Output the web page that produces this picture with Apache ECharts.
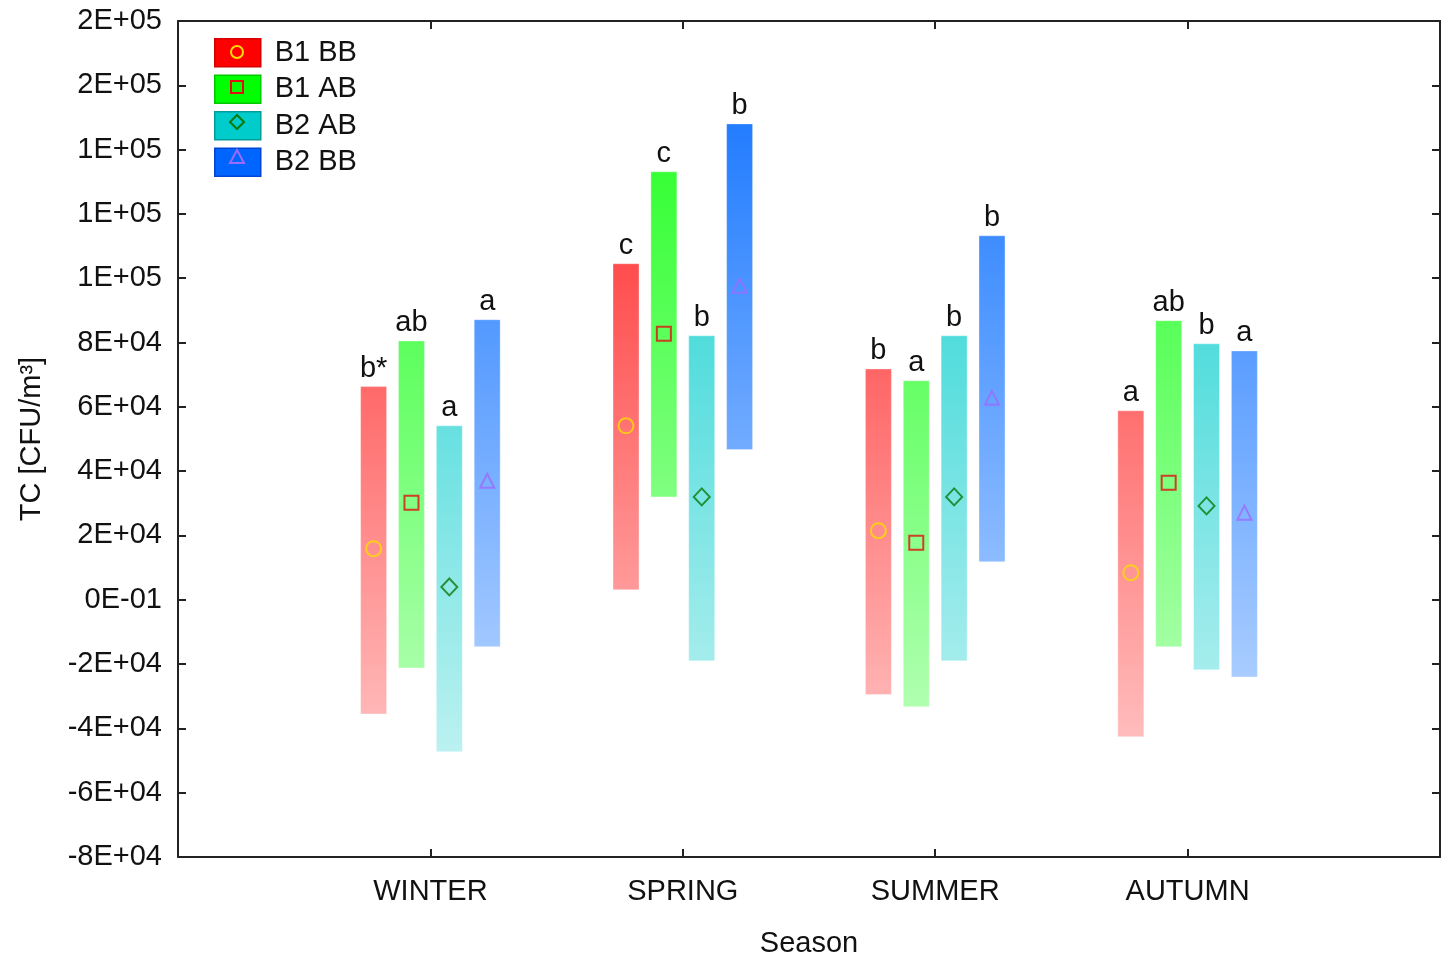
<!DOCTYPE html>
<html>
<head>
<meta charset="utf-8">
<title>TC by season</title>
<script src="https://cdn.jsdelivr.net/npm/echarts@6/dist/echarts.min.js"></script>
<style>
  html, body { margin: 0; padding: 0; background: #fff; }
  #chart { width: 1448px; height: 960px; }
</style>
</head>
<body>
<div id="chart"></div>
<script>
// categories and groups
const seasons = ['WINTER', 'SPRING', 'SUMMER', 'AUTUMN']
const groups = ['B1 BB', 'B1 AB', 'B2 AB', 'B2 BB']

// range (low / high) and mean per group, one value per season
const b1bbLow = [-35500, 3100, -29500, -42600]
const b1bbHigh = [66300, 104500, 71800, 58800]
const b1bbMean = [15900, 54100, 21500, 8400]

const b1abLow = [-21200, 32000, -33300, -14600]
const b1abHigh = [80500, 133100, 68100, 86800]
const b1abMean = [30200, 82700, 17700, 36400]

const b2abLow = [-47300, -19000, -19000, -21800]
const b2abHigh = [54100, 82100, 82100, 79600]
const b2abMean = [4000, 32000, 32000, 29200]

const b2bbLow = [-14600, 46700, 11800, -24000]
const b2bbHigh = [87100, 148000, 113200, 77400]
const b2bbMean = [37000, 97700, 62800, 27100]

// letters above bars
const b1bbLetters = ['b*', 'c', 'b', 'a']
const b1abLetters = ['ab', 'c', 'a', 'ab']
const b2abLetters = ['a', 'b', 'b', 'b']
const b2bbLetters = ['a', 'b', 'b', 'a']

// y tick labels, bottom to top
const yTickLabels = ['-8E+04', '-6E+04', '-4E+04', '-2E+04', '0E-01', '2E+04', '4E+04',
  '6E+04', '8E+04', '1E+05', '1E+05', '1E+05', '2E+05', '2E+05']

const lows = [b1bbLow, b1abLow, b2abLow, b2bbLow]
const highs = [b1bbHigh, b1abHigh, b2abHigh, b2bbHigh]
const means = [b1bbMean, b1abMean, b2abMean, b2bbMean]
const letters = [b1bbLetters, b1abLetters, b2abLetters, b2bbLetters]

const Y_MIN = -80000
const Y_MAX = 180000
const Y_STEP = 20000
const GROUP_OFFSET = 0.15
const FONT = '"Liberation Sans", Arial, sans-serif'
const FS = 29

// bar gradients (top colour, bottom colour), legend colours, markers
const barStops = [
  ['#ff1414', '#ffd8d8'],
  ['#14ff14', '#d2ffd2'],
  ['#00cccc', '#d6f6f6'],
  ['#0a6eff', '#d4e6ff']
]
const legendFill = ['#ff0000', '#00ff00', '#00cccc', '#0064ff']
const legendBorder = ['#d40000', '#00c800', '#009c9c', '#0046d2']
const markerSymbols = ['circle', 'rect', 'diamond', 'triangle']
const markerColors = ['#ffdd00', '#e01010', '#0a7a0a', '#9b6bff']
const markerSizes = [15, 14, [16, 17], 14]

const chart = echarts.init(document.getElementById('chart'))

function xPos(s, c) {
  return c + 1 + (s - 1.5) * GROUP_OFFSET
}

const barSeries = groups.map((name, s) => ({
  name: name,
  type: 'custom',
  z: 2,
  data: seasons.map((_, c) => [xPos(s, c), lows[s][c], highs[s][c], c]),
  encode: { x: 0, y: [1, 2] },
  itemStyle: { color: legendFill[s] },
  renderItem: function (params, api) {
    const lo = api.coord([api.value(0), api.value(1)])
    const hi = api.coord([api.value(0), api.value(2)])
    const yTop = api.coord([0, Y_MAX])[1]
    const yBot = api.coord([0, Y_MIN])[1]
    const w = 26
    const c = api.value(3)
    return {
      type: 'group',
      children: [
        {
          type: 'rect',
          shape: { x: hi[0] - w / 2, y: hi[1], width: w, height: lo[1] - hi[1] },
          style: {
            fill: new echarts.graphic.LinearGradient(0, yTop, 0, yBot, [
              { offset: 0, color: barStops[s][0] },
              { offset: 1, color: barStops[s][1] }
            ], true),
            stroke: 'rgba(255,255,255,0.35)',
            lineWidth: 1
          }
        },
        {
          type: 'text',
          style: {
            text: letters[s][c],
            x: hi[0],
            y: hi[1] - 3,
            align: 'center',
            verticalAlign: 'bottom',
            fill: '#111',
            font: FS + 'px ' + FONT
          }
        }
      ]
    }
  }
}))

const markerSeries = groups.map((name, s) => ({
  name: name + ' mean',
  type: 'scatter',
  z: 5,
  symbol: markerSymbols[s],
  symbolSize: markerSizes[s],
  itemStyle: {
    color: 'rgba(0,0,0,0)',
    borderColor: markerColors[s],
    borderWidth: 2
  },
  data: seasons.map((_, c) => [xPos(s, c), means[s][c]])
}))

// markers drawn inside the legend boxes
const legendTop = 38
const legendPitch = 35
const legendMarkX = 237
const legendMarks = [
  { type: 'circle', shape: { cx: legendMarkX, cy: legendTop + 14, r: 6 } },
  { type: 'rect', shape: { x: legendMarkX - 6, y: legendTop + legendPitch + 8, width: 12, height: 12 } },
  { type: 'polygon', shape: { points: [[legendMarkX, legendTop + 2 * legendPitch + 7], [legendMarkX + 7, legendTop + 2 * legendPitch + 14], [legendMarkX, legendTop + 2 * legendPitch + 21], [legendMarkX - 7, legendTop + 2 * legendPitch + 14]] } },
  { type: 'polygon', shape: { points: [[legendMarkX, legendTop + 3 * legendPitch + 7], [legendMarkX + 7, legendTop + 3 * legendPitch + 20], [legendMarkX - 7, legendTop + 3 * legendPitch + 20]] } }
].map((g, i) => Object.assign(g, {
  z: 100,
  style: { fill: 'none', stroke: markerColors[i], lineWidth: 2 }
}))

const tickStyle = { show: true, inside: true, length: 8, lineStyle: { color: '#222', width: 2 } }
const lineStyle = { show: true, onZero: false, lineStyle: { color: '#222', width: 2 } }

const option = {
  animation: false,
  textStyle: { fontFamily: FONT },
  grid: { left: 178, right: 8, top: 21, bottom: 103, outerBoundsMode: 'none', containLabel: false },
  legend: {
    orient: 'vertical',
    left: 214,
    top: legendTop,
    padding: 0,
    itemWidth: 46,
    itemHeight: 28,
    itemGap: legendPitch - 28,
    selectedMode: false,
    textStyle: { fontSize: FS, lineHeight: 28, color: '#111', fontFamily: FONT, padding: [0, 0, 0, 9] },
    data: groups.map((g, i) => ({
      name: g,
      icon: 'rect',
      itemStyle: { color: legendFill[i], borderColor: legendBorder[i], borderWidth: 1.5 }
    }))
  },
  graphic: legendMarks,
  xAxis: [
    {
      type: 'value',
      min: 0,
      max: 5,
      interval: 1,
      name: 'Season',
      nameLocation: 'middle',
      nameGap: 72,
      nameTextStyle: { fontSize: FS, color: '#111' },
      axisLine: lineStyle,
      axisTick: tickStyle,
      axisLabel: {
        fontSize: FS,
        color: '#111',
        margin: 20,
        formatter: v => (v >= 1 && v <= seasons.length ? seasons[v - 1] : '')
      },
      splitLine: { show: false }
    },
    {
      type: 'value',
      position: 'top',
      min: 0,
      max: 5,
      interval: 1,
      axisLine: lineStyle,
      axisTick: tickStyle,
      axisLabel: { show: false },
      splitLine: { show: false }
    }
  ],
  yAxis: [
    {
      type: 'value',
      min: Y_MIN,
      max: Y_MAX,
      interval: Y_STEP,
      name: 'TC [CFU/m³]',
      nameLocation: 'middle',
      nameGap: 132,
      nameRotate: 90,
      nameTextStyle: { fontSize: FS, color: '#111' },
      axisLine: lineStyle,
      axisTick: tickStyle,
      axisLabel: {
        fontSize: FS,
        color: '#111',
        margin: 16,
        formatter: v => yTickLabels[Math.round((v - Y_MIN) / Y_STEP)]
      },
      splitLine: { show: false }
    },
    {
      type: 'value',
      position: 'right',
      min: Y_MIN,
      max: Y_MAX,
      interval: Y_STEP,
      axisLine: lineStyle,
      axisTick: tickStyle,
      axisLabel: { show: false },
      splitLine: { show: false }
    }
  ],
  series: barSeries.concat(markerSeries)
}

chart.setOption(option)
</script>
</body>
</html>
